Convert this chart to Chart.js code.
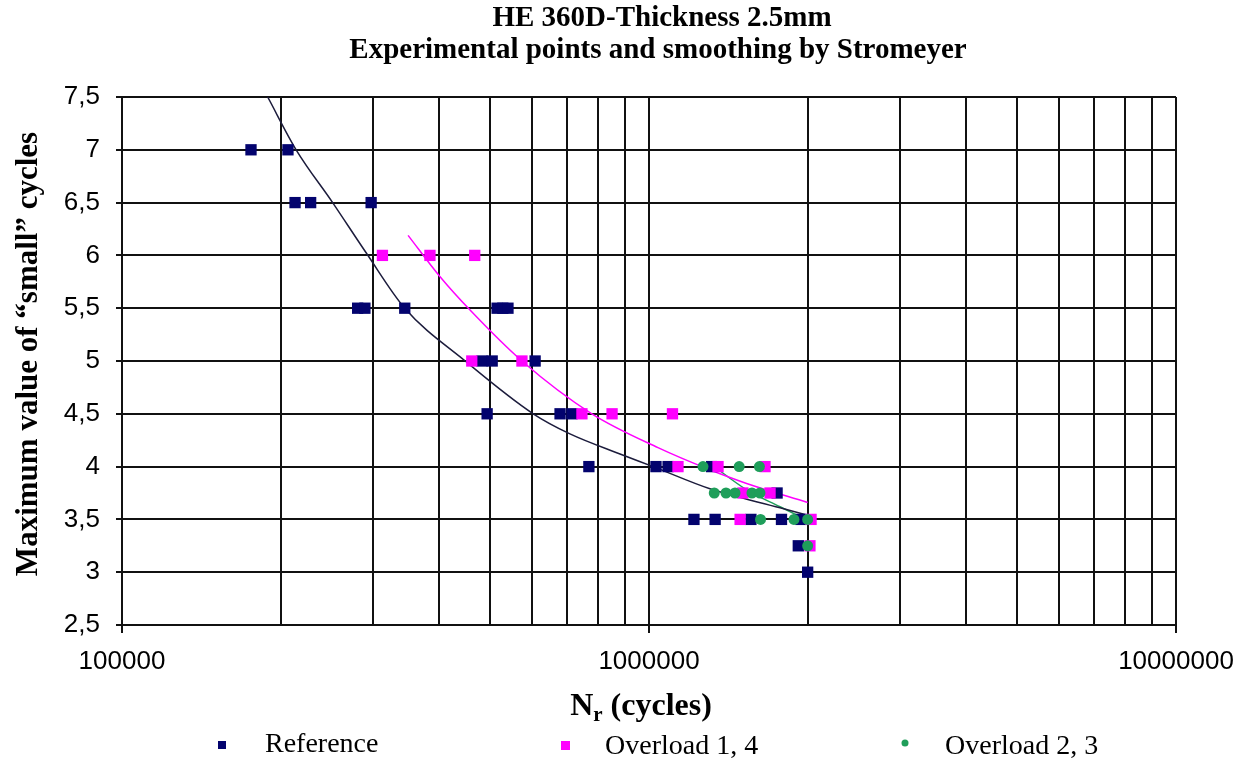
<!DOCTYPE html>
<html>
<head>
<meta charset="utf-8">
<title>HE 360D - Stromeyer smoothing</title>
<script src="https://cdn.jsdelivr.net/npm/chart.js@4.4.1/dist/chart.umd.min.js"></script>
<style>
    html, body { margin: 0; padding: 0; background: #fff; }
    #wrap { width: 1244px; height: 765px; position: relative; }
</style>
</head>
<body>
<div id="wrap"><canvas id="snChart"></canvas></div>
<script>
    // experimental points (N cycles, max "small" cycle value)
    var refN = [175700, 206500, 213000, 228000, 297000, 280000, 289000, 344000, 515000, 528000, 540000,
        482000, 504000, 608000, 493000, 678000, 714000, 769000, 1031000, 1087000, 1315000, 1750000,
        1217000, 1335000, 1561000, 1784000, 1942000, 1920000, 2000000];
    var refS = [7, 7, 6.5, 6.5, 6.5, 5.5, 5.5, 5.5, 5.5, 5.5, 5.5,
        5, 5, 5, 4.5, 4.5, 4.5, 4, 4, 4, 4, 3.75,
        3.5, 3.5, 3.5, 3.5, 3.5, 3.25, 3];

    var ovl14N = [312000, 384000, 467000, 461000, 574000, 746000, 851000, 1108000, 1135000, 1352000,
        1660000, 1507000, 1697000, 1489000, 2030000, 2020000];
    var ovl14S = [6, 6, 6, 5, 5, 4.5, 4.5, 4.5, 4, 4, 4, 3.75, 3.75, 3.5, 3.5, 3.25];

    var ovl23N = [1266000, 1483000, 1620000, 1330000, 1400000, 1456000, 1568000, 1624000, 1628000,
        1884000, 2000000, 2000000];
    var ovl23S = [4, 4, 4, 3.75, 3.75, 3.75, 3.75, 3.75, 3.5, 3.5, 3.5, 3.25];

    // Stromeyer smoothing curves
    var refFitN = [189000, 214000, 251000, 291000, 344000, 448000, 603000, 708000, 881000, 1018000,
        1305000, 1773000, 2000000];
    var refFitS = [7.5, 7.0, 6.5, 6.02, 5.5, 5.0, 4.5, 4.31, 4.12, 4.0, 3.79, 3.61, 3.54];

    var ovl14FitN = [349000, 401000, 458000, 574000, 779000, 1040000, 1305000, 1532000, 2000000];
    var ovl14FitS = [6.19, 5.80, 5.48, 5.0, 4.5, 4.18, 3.97, 3.84, 3.66];

    var ovl23FitN = [1305000, 1532000, 1773000, 2000000];
    var ovl23FitS = [4.03, 3.78, 3.62, 3.49];

    // axes
    var xTickValues = [1e5, 2e5, 3e5, 4e5, 5e5, 6e5, 7e5, 8e5, 9e5,
        1e6, 2e6, 3e6, 4e6, 5e6, 6e6, 7e6, 8e6, 9e6, 1e7];
    var xDecades = [1e5, 1e6, 1e7];
    var xTickLabels = ['100000', '1000000', '10000000'];
    var yTickValues = [2.5, 3, 3.5, 4, 4.5, 5, 5.5, 6, 6.5, 7, 7.5];

    var titleLines = ['HE 360D-Thickness 2.5mm', 'Experimental points and smoothing by Stromeyer'];
    var yTitle = 'Maximum value of \u201csmall\u201d cycles';
    var xTitle = ['N', 'r', ' (cycles)'];

    var NAVY = '#03036e';
    var PINK = '#ff00ff';
    var GREEN = '#1f9e5a';
    var GRID = '#111';

    function pts(xs, ys) {
        return xs.map(function (x, i) { return { x: x, y: ys[i] }; });
    }

    function fitLine(label, xs, ys, color) {
        return {
            label: label,
            data: pts(xs, ys),
            showLine: true,
            borderColor: color,
            borderWidth: 1.5,
            pointRadius: 0,
            cubicInterpolationMode: 'monotone',
            order: 5
        };
    }

    var captions = {
        id: 'captions',
        afterDraw: function (chart) {
            var c = chart.ctx;
            c.save();
            c.fillStyle = '#000';
            c.textAlign = 'center';
            c.textBaseline = 'middle';

            c.font = 'bold 29px "Liberation Serif"';
            c.fillText(titleLines[0], 662, 19);
            c.fillText(titleLines[1], 658, 51);

            c.font = 'bold 31px "Liberation Serif"';
            c.save();
            c.translate(29, 354);
            c.rotate(-Math.PI / 2);
            c.fillText(yTitle, 0, 0);
            c.restore();

            // x title with subscript r
            c.textAlign = 'left';
            c.textBaseline = 'alphabetic';
            var big = 'bold 32px "Liberation Serif"', small = 'bold 21px "Liberation Serif"';
            c.font = big; var w1 = c.measureText(xTitle[0]).width;
            var w3 = c.measureText(xTitle[2]).width;
            c.font = small; var w2 = c.measureText(xTitle[1]).width;
            var x0 = 641 - (w1 + w2 + w3) / 2, base = 715;
            c.font = big; c.fillText(xTitle[0], x0, base);
            c.font = small; c.fillText(xTitle[1], x0 + w1, base + 6);
            c.font = big; c.fillText(xTitle[2], x0 + w1 + w2, base);

            // legend
            c.font = '28px "Liberation Serif"';
            c.textBaseline = 'middle';
            var ds = chart.data.datasets;
            c.fillStyle = NAVY; c.fillRect(218, 741, 8, 8);
            c.fillStyle = PINK; c.fillRect(561, 741, 9, 9);
            c.fillStyle = GREEN; c.beginPath(); c.arc(905, 743, 3.5, 0, Math.PI * 2); c.fill();
            c.fillStyle = '#000';
            c.fillText(ds[0].label, 265, 745);
            c.fillText(ds[1].label, 605, 747);
            c.fillText(ds[2].label, 945, 747);
            c.restore();
        }
    };

    var tickFont = { family: '"Liberation Sans", Arial, sans-serif', size: 26 };

    new Chart(document.getElementById('snChart').getContext('2d'), {
        type: 'scatter',
        data: {
            datasets: [{
                label: 'Reference',
                data: pts(refN, refS),
                pointStyle: 'rect',
                pointRadius: 8,
                borderWidth: 0,
                backgroundColor: NAVY,
                borderColor: NAVY,
                order: 3
            }, {
                label: 'Overload 1, 4',
                data: pts(ovl14N, ovl14S),
                pointStyle: 'rect',
                pointRadius: 8,
                borderWidth: 0,
                backgroundColor: PINK,
                borderColor: PINK,
                order: 2
            }, {
                label: 'Overload 2, 3',
                data: pts(ovl23N, ovl23S),
                pointStyle: 'circle',
                pointRadius: 5.5,
                borderWidth: 0,
                backgroundColor: GREEN,
                borderColor: GREEN,
                order: 1
            },
            fitLine('Reference fit', refFitN, refFitS, '#1c1c3c'),
            fitLine('Overload 1, 4 fit', ovl14FitN, ovl14FitS, PINK),
            fitLine('Overload 2, 3 fit', ovl23FitN, ovl23FitS, GREEN)]
        },
        options: {
            responsive: true,
            maintainAspectRatio: false,
            animation: false,
            layout: { padding: { left: 0, right: 68, top: 97, bottom: 0 } },
            plugins: {
                legend: { display: false },
                title: { display: false },
                tooltip: { enabled: false }
            },
            scales: {
                x: {
                    type: 'logarithmic',
                    min: 1e5,
                    max: 1e7,
                    afterBuildTicks: function (s) {
                        s.ticks = xTickValues.map(function (v) { return { value: v }; });
                    },
                    afterFit: function (s) {
                        s.height = 140;
                        s.paddingLeft = 0;
                        s.paddingRight = 0;
                    },
                    ticks: {
                        autoSkip: false,
                        maxRotation: 0,
                        padding: 13,
                        color: '#000',
                        font: tickFont,
                        callback: function (v) {
                            var i = xDecades.indexOf(v);
                            return i >= 0 ? xTickLabels[i] : '';
                        }
                    },
                    grid: {
                        color: GRID,
                        lineWidth: 2,
                        tickLength: 8,
                        tickColor: function (ctx) {
                            return ctx.tick && xDecades.indexOf(ctx.tick.value) >= 0 ? GRID : 'rgba(0,0,0,0)';
                        }
                    },
                    border: { color: GRID, width: 2 }
                },
                y: {
                    type: 'linear',
                    min: 2.5,
                    max: 7.5,
                    afterBuildTicks: function (s) {
                        s.ticks = yTickValues.map(function (v) { return { value: v }; });
                    },
                    afterFit: function (s) {
                        s.width = 122;
                        s.paddingTop = 0;
                        s.paddingBottom = 0;
                    },
                    ticks: {
                        padding: 16,
                        color: '#000',
                        font: tickFont,
                        callback: function (v) { return String(v).replace('.', ','); }
                    },
                    grid: { color: GRID, lineWidth: 2, tickLength: 6, tickColor: GRID },
                    border: { color: GRID, width: 2 }
                }
            }
        },
        plugins: [captions]
    });
</script>
</body>
</html>
